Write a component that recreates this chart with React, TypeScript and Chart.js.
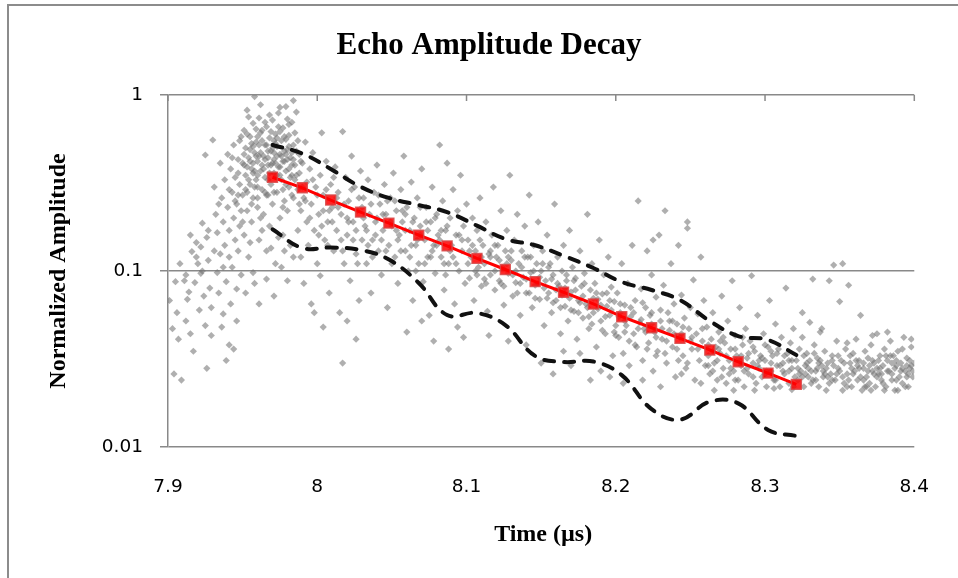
import React, { useEffect, useRef } from 'react';
import { Chart, registerables } from 'chart.js';

Chart.register(...registerables);

const chartTitle = 'Echo Amplitude Decay';
const xAxisTitle = 'Time (µs)';
const yAxisTitle = 'Normalized Amplitude';

const xTicks = [7.9, 8, 8.1, 8.2, 8.3, 8.4];
const yTicks = [0.01, 0.1, 1];

const fitTimes = [7.970, 7.990, 8.009, 8.029, 8.048, 8.068, 8.087, 8.107, 8.126, 8.146, 8.165, 8.185, 8.204, 8.224, 8.243, 8.263, 8.282, 8.302, 8.321];
const fitAmps = [0.341, 0.297, 0.253, 0.216, 0.187, 0.160, 0.139, 0.118, 0.102, 0.087, 0.0757, 0.065, 0.055, 0.0476, 0.0414, 0.0356, 0.0305, 0.0263, 0.0227];
const upperAmps = [0.520, 0.465, 0.380, 0.301, 0.260, 0.237, 0.216, 0.181, 0.152, 0.140, 0.122, 0.104, 0.0866, 0.078, 0.0684, 0.052, 0.0427, 0.0406, 0.0333];
const lowerAmps = [0.1726, 0.1351, 0.136, 0.1316, 0.1162, 0.0855, 0.0562, 0.0577, 0.0493, 0.0329, 0.0304, 0.0306, 0.0256, 0.0164, 0.0143, 0.0181, 0.0177, 0.0125, 0.01155];

const scatterPoints: [number, number][] = [
  // 7.90 - 7.93
  [7.901, 0.068], [7.903, 0.047], [7.904, 0.026], [7.906, 0.058], [7.907, 0.041], [7.909, 0.024], [7.911, 0.088], [7.912, 0.052],
  [7.913, 0.069], [7.915, 0.044], [7.916, 0.129], [7.917, 0.035], [7.918, 0.086], [7.919, 0.145], [7.921, 0.060], [7.922, 0.097],
  [7.923, 0.187], [7.924, 0.072], [7.925, 0.049], [7.926, 0.155], [7.927, 0.115], [7.928, 0.080], [7.929, 0.043], [7.929, 0.062],
  [7.926, 0.028], [7.922, 0.137], [7.914, 0.076], [7.920, 0.110], [7.925, 0.456],
  [7.905, 0.087], [7.908, 0.11], [7.912, 0.095], [7.915, 0.16], [7.919, 0.12], [7.923, 0.10], [7.927, 0.17], [7.931, 0.13],
  [7.934, 0.24], [7.937, 0.105],
  // 7.93 - 7.95
  [7.930, 0.555], [7.931, 0.30], [7.932, 0.21], [7.933, 0.165], [7.933, 0.098], [7.934, 0.075], [7.935, 0.41], [7.935, 0.125],
  [7.936, 0.26], [7.937, 0.19], [7.937, 0.057], [7.938, 0.33], [7.938, 0.14], [7.939, 0.087], [7.940, 0.23], [7.940, 0.46],
  [7.941, 0.12], [7.941, 0.17], [7.942, 0.38], [7.942, 0.065], [7.943, 0.28], [7.943, 0.105], [7.944, 0.20], [7.944, 0.52],
  [7.945, 0.15], [7.945, 0.34], [7.946, 0.079], [7.946, 0.24], [7.947, 0.43], [7.947, 0.13], [7.948, 0.18], [7.948, 0.31],
  [7.949, 0.095], [7.949, 0.58], [7.949, 0.22], [7.936, 0.048], [7.941, 0.038], [7.946, 0.052], [7.944, 0.036], [7.939, 0.031],
  // 7.95 - 7.99 (dense cluster)
  [7.950, 0.41], [7.950, 0.27], [7.951, 0.63], [7.951, 0.16], [7.952, 0.35], [7.952, 0.50], [7.953, 0.22], [7.953, 0.82],
  [7.954, 0.44], [7.954, 0.12], [7.955, 0.31], [7.955, 0.58], [7.956, 0.38], [7.956, 0.19], [7.957, 0.69], [7.957, 0.26],
  [7.958, 0.47], [7.958, 0.085], [7.959, 0.33], [7.959, 0.54], [7.960, 0.42], [7.960, 0.23], [7.961, 0.74], [7.961, 0.15],
  [7.962, 0.37], [7.962, 0.61], [7.963, 0.29], [7.958, 0.98], [7.964, 0.45], [7.964, 0.21], [7.965, 0.52], [7.965, 0.34],
  [7.966, 0.66], [7.966, 0.13], [7.967, 0.40], [7.967, 0.27], [7.968, 0.57], [7.968, 0.18], [7.969, 0.48], [7.969, 0.31],
  [7.970, 0.72], [7.970, 0.24], [7.971, 0.43], [7.971, 0.36], [7.972, 0.60], [7.972, 0.11], [7.973, 0.51], [7.973, 0.28],
  [7.974, 0.39], [7.974, 0.79], [7.975, 0.46], [7.975, 0.20], [7.976, 0.55], [7.976, 0.33], [7.977, 0.65], [7.977, 0.16],
  [7.978, 0.42], [7.978, 0.25], [7.979, 0.86], [7.979, 0.37], [7.980, 0.49], [7.980, 0.22], [7.981, 0.59], [7.981, 0.30],
  [7.982, 0.44], [7.982, 0.14], [7.983, 0.70], [7.983, 0.35], [7.984, 0.52], [7.984, 0.26], [7.985, 0.40], [7.984, 0.93],
  [7.952, 0.075], [7.957, 0.098], [7.961, 0.065], [7.966, 0.09], [7.971, 0.072], [7.976, 0.105], [7.980, 0.088], [7.984, 0.12],
  [7.955, 0.145], [7.963, 0.17], [7.969, 0.135], [7.974, 0.155], [7.978, 0.13], [7.953, 0.39], [7.958, 0.30], [7.962, 0.47],
  [7.967, 0.33], [7.972, 0.41], [7.977, 0.29], [7.981, 0.38], [7.956, 0.53], [7.960, 0.58], [7.965, 0.43], [7.970, 0.50],
  [7.975, 0.62], [7.979, 0.56], [7.983, 0.47],
  [7.941, 0.29], [7.943, 0.44], [7.945, 0.25], [7.947, 0.36], [7.948, 0.55], [7.950, 0.19], [7.951, 0.46], [7.952, 0.29],
  [7.953, 0.60], [7.954, 0.33], [7.955, 0.42], [7.956, 0.24], [7.957, 0.51], [7.958, 0.37], [7.959, 0.64], [7.960, 0.30],
  [7.961, 0.45], [7.962, 0.20], [7.963, 0.55], [7.964, 0.38], [7.965, 0.70], [7.966, 0.27], [7.967, 0.48], [7.968, 0.36],
  [7.969, 0.62], [7.970, 0.41], [7.971, 0.28], [7.972, 0.53], [7.973, 0.35], [7.974, 0.66], [7.975, 0.39], [7.976, 0.45],
  [7.977, 0.23], [7.978, 0.58], [7.979, 0.31], [7.980, 0.43], [7.981, 0.68], [7.982, 0.34], [7.983, 0.27], [7.984, 0.43],
  [7.985, 0.61], [7.986, 0.35], [7.987, 0.55], [7.988, 0.24], [7.989, 0.42], [7.990, 0.30], [7.954, 0.75], [7.962, 0.88],
  [7.968, 0.77], [7.975, 0.85], [7.980, 0.73], [7.986, 0.80], [7.957, 0.41], [7.963, 0.40], [7.971, 0.47], [7.978, 0.48],
  [7.960, 0.35], [7.966, 0.52], [7.973, 0.57], [7.947, 0.27],
  [7.951, 0.40], [7.955, 0.49], [7.959, 0.45], [7.963, 0.63], [7.967, 0.44], [7.971, 0.55], [7.975, 0.35], [7.979, 0.46],
  [7.983, 0.40], [7.957, 0.36], [7.961, 0.52], [7.965, 0.28], [7.969, 0.40], [7.973, 0.45], [7.977, 0.42], [7.981, 0.51],
  [7.985, 0.33], [7.988, 0.46], [7.953, 0.28], [7.960, 0.26],
  // 7.985 - 8.03
  [7.986, 0.48], [7.987, 0.29], [7.987, 0.17], [7.988, 0.36], [7.989, 0.22], [7.989, 0.12], [7.990, 0.41], [7.991, 0.26],
  [7.991, 0.085], [7.992, 0.54], [7.993, 0.19], [7.993, 0.32], [7.994, 0.14], [7.995, 0.38], [7.996, 0.24], [7.996, 0.065],
  [7.997, 0.47], [7.998, 0.17], [7.999, 0.30], [8.000, 0.11], [8.001, 0.21], [8.002, 0.35], [8.002, 0.094], [8.003, 0.61],
  [8.004, 0.27], [8.005, 0.15], [8.006, 0.42], [8.007, 0.19], [8.008, 0.075], [8.009, 0.31], [8.010, 0.23], [8.011, 0.13],
  [8.012, 0.39], [8.013, 0.17], [8.014, 0.28], [8.015, 0.058], [8.016, 0.21], [8.017, 0.62], [8.018, 0.11], [8.019, 0.34],
  [8.020, 0.16], [8.021, 0.25], [8.022, 0.088], [8.023, 0.45], [8.024, 0.19], [8.025, 0.30], [8.026, 0.125], [8.027, 0.22],
  [8.028, 0.068], [8.029, 0.37], [8.030, 0.15], [8.017, 0.030], [8.004, 0.048], [8.020, 0.052], [7.998, 0.058], [8.026, 0.041],
  [7.992, 0.25], [7.995, 0.20], [7.997, 0.33], [8.000, 0.27], [8.003, 0.18], [8.006, 0.29], [8.008, 0.22], [8.011, 0.34],
  [8.013, 0.26], [8.016, 0.15], [8.018, 0.24], [8.021, 0.19], [8.023, 0.29], [8.026, 0.17], [8.028, 0.26],
  [8.001, 0.16], [8.004, 0.22], [8.007, 0.14], [8.010, 0.19], [8.014, 0.23], [8.017, 0.13], [8.020, 0.20], [8.024, 0.15],
  [8.027, 0.11],
  // 8.03 - 8.10
  [8.031, 0.26], [8.032, 0.18], [8.033, 0.11], [8.034, 0.33], [8.035, 0.21], [8.036, 0.075], [8.037, 0.15], [8.038, 0.28],
  [8.039, 0.19], [8.040, 0.40], [8.041, 0.13], [8.042, 0.24], [8.043, 0.095], [8.044, 0.17], [8.045, 0.31], [8.046, 0.21],
  [8.047, 0.062], [8.048, 0.14], [8.049, 0.26], [8.050, 0.18], [8.051, 0.36], [8.052, 0.12], [8.053, 0.22], [8.054, 0.085],
  [8.055, 0.16], [8.056, 0.29], [8.057, 0.19], [8.058, 0.45], [8.059, 0.13], [8.060, 0.23], [8.061, 0.10], [8.062, 0.17],
  [8.063, 0.32], [8.064, 0.068], [8.065, 0.20], [8.066, 0.14], [8.067, 0.26], [8.068, 0.11], [8.069, 0.18], [8.070, 0.38],
  [8.071, 0.087], [8.072, 0.15], [8.073, 0.23], [8.074, 0.12], [8.075, 0.056], [8.076, 0.19], [8.077, 0.30], [8.078, 0.14],
  [8.079, 0.097], [8.080, 0.21], [8.081, 0.16], [8.082, 0.52], [8.083, 0.12], [8.084, 0.25], [8.085, 0.078], [8.086, 0.17],
  [8.087, 0.41], [8.088, 0.11], [8.089, 0.20], [8.090, 0.14], [8.091, 0.29], [8.092, 0.065], [8.093, 0.16], [8.094, 0.22],
  [8.095, 0.10], [8.096, 0.35], [8.097, 0.13], [8.098, 0.18], [8.099, 0.085], [8.100, 0.24],
  [8.060, 0.045], [8.078, 0.040], [8.088, 0.036], [8.094, 0.048], [8.070, 0.052], [8.098, 0.042],
  [8.031, 0.20], [8.034, 0.14], [8.036, 0.24], [8.039, 0.16], [8.041, 0.27], [8.044, 0.21], [8.046, 0.13], [8.049, 0.19],
  [8.052, 0.25], [8.054, 0.15], [8.057, 0.22], [8.059, 0.17], [8.062, 0.12], [8.064, 0.19], [8.067, 0.15], [8.069, 0.23],
  [8.072, 0.11], [8.074, 0.17], [8.077, 0.13], [8.079, 0.20], [8.082, 0.15], [8.085, 0.11], [8.087, 0.18], [8.091, 0.12],
  [8.095, 0.16],
  [8.030, 0.23], [8.033, 0.17], [8.037, 0.12], [8.040, 0.20], [8.043, 0.15], [8.047, 0.25], [8.050, 0.11], [8.053, 0.17],
  [8.056, 0.13], [8.059, 0.21], [8.063, 0.14], [8.066, 0.10], [8.069, 0.16], [8.073, 0.19], [8.076, 0.12], [8.080, 0.14],
  [8.083, 0.17], [8.086, 0.095], [8.089, 0.13], [8.093, 0.11], [8.097, 0.15],
  // 8.10 - 8.20
  [8.101, 0.15], [8.102, 0.091], [8.103, 0.12], [8.104, 0.20], [8.105, 0.068], [8.106, 0.13], [8.107, 0.17], [8.108, 0.105],
  [8.109, 0.26], [8.110, 0.082], [8.111, 0.14], [8.112, 0.11], [8.113, 0.19], [8.114, 0.059], [8.115, 0.125], [8.116, 0.095],
  [8.117, 0.16], [8.118, 0.30], [8.119, 0.078], [8.120, 0.12], [8.121, 0.14], [8.122, 0.088], [8.123, 0.22], [8.124, 0.105],
  [8.125, 0.064], [8.126, 0.13], [8.127, 0.17], [8.128, 0.097], [8.129, 0.35], [8.130, 0.115], [8.131, 0.072], [8.132, 0.15],
  [8.133, 0.086], [8.134, 0.21], [8.135, 0.11], [8.136, 0.056], [8.137, 0.13], [8.138, 0.092], [8.139, 0.18], [8.140, 0.075],
  [8.141, 0.12], [8.142, 0.27], [8.143, 0.098], [8.144, 0.062], [8.145, 0.14], [8.146, 0.083], [8.147, 0.11], [8.148, 0.19],
  [8.149, 0.069], [8.150, 0.10], [8.151, 0.13], [8.152, 0.049], [8.153, 0.088], [8.154, 0.16], [8.155, 0.075], [8.156, 0.11],
  [8.157, 0.058], [8.158, 0.095], [8.159, 0.24], [8.160, 0.068], [8.161, 0.12], [8.162, 0.082], [8.163, 0.044], [8.164, 0.10],
  [8.165, 0.14], [8.166, 0.063], [8.167, 0.088], [8.168, 0.052], [8.169, 0.17], [8.170, 0.076], [8.171, 0.105], [8.172, 0.059],
  [8.173, 0.091], [8.174, 0.041], [8.175, 0.068], [8.176, 0.13], [8.177, 0.082], [8.178, 0.054], [8.179, 0.097], [8.180, 0.065],
  [8.181, 0.21], [8.182, 0.047], [8.183, 0.078], [8.184, 0.11], [8.185, 0.058], [8.186, 0.085], [8.187, 0.037], [8.188, 0.069],
  [8.189, 0.15], [8.190, 0.052], [8.191, 0.074], [8.192, 0.095], [8.193, 0.044], [8.194, 0.063], [8.195, 0.12], [8.196, 0.056],
  [8.197, 0.081], [8.198, 0.033], [8.199, 0.067], [8.200, 0.049],
  [8.150, 0.030], [8.158, 0.026], [8.170, 0.029], [8.183, 0.024], [8.176, 0.034], [8.165, 0.035], [8.190, 0.027], [8.196, 0.025],
  [8.115, 0.043], [8.128, 0.040], [8.140, 0.038],
  [8.101, 0.11], [8.104, 0.14], [8.107, 0.095], [8.110, 0.12], [8.113, 0.085], [8.116, 0.13], [8.119, 0.10], [8.122, 0.115],
  [8.125, 0.082], [8.128, 0.12], [8.131, 0.095], [8.134, 0.075], [8.137, 0.105], [8.140, 0.09], [8.143, 0.12], [8.146, 0.07],
  [8.149, 0.092], [8.152, 0.08], [8.155, 0.105], [8.158, 0.066], [8.161, 0.085], [8.164, 0.073], [8.167, 0.095], [8.170, 0.06],
  [8.173, 0.078], [8.176, 0.066], [8.179, 0.085], [8.182, 0.055], [8.185, 0.07], [8.188, 0.061], [8.191, 0.046], [8.194, 0.075],
  [8.197, 0.06],
  [8.102, 0.13], [8.106, 0.10], [8.109, 0.15], [8.112, 0.09], [8.116, 0.12], [8.119, 0.14], [8.123, 0.085], [8.127, 0.11],
  [8.130, 0.13], [8.133, 0.10], [8.136, 0.085], [8.139, 0.12], [8.142, 0.075], [8.145, 0.10], [8.148, 0.085], [8.151, 0.11],
  [8.154, 0.07], [8.157, 0.09], [8.160, 0.078], [8.163, 0.062], [8.166, 0.08], [8.169, 0.07], [8.172, 0.088], [8.175, 0.058],
  [8.178, 0.072], [8.181, 0.062], [8.184, 0.05], [8.187, 0.075], [8.190, 0.064], [8.193, 0.055], [8.196, 0.068], [8.199, 0.045],
  // 8.20 - 8.26
  [8.201, 0.075], [8.202, 0.042], [8.203, 0.058], [8.204, 0.11], [8.205, 0.034], [8.206, 0.064], [8.207, 0.049], [8.208, 0.085],
  [8.209, 0.029], [8.210, 0.055], [8.211, 0.14], [8.212, 0.044], [8.213, 0.068], [8.214, 0.037], [8.215, 0.25], [8.216, 0.051],
  [8.217, 0.079], [8.218, 0.031], [8.219, 0.047], [8.220, 0.062], [8.221, 0.13], [8.222, 0.039], [8.223, 0.056], [8.224, 0.095],
  [8.225, 0.027], [8.226, 0.045], [8.227, 0.071], [8.228, 0.035], [8.229, 0.16], [8.230, 0.052], [8.231, 0.041], [8.232, 0.083],
  [8.233, 0.22], [8.234, 0.030], [8.235, 0.058], [8.236, 0.046], [8.237, 0.11], [8.238, 0.037], [8.239, 0.065], [8.240, 0.025],
  [8.241, 0.050], [8.242, 0.14], [8.243, 0.042], [8.244, 0.073], [8.245, 0.033], [8.246, 0.054], [8.247, 0.028], [8.248, 0.19],
  [8.249, 0.047], [8.250, 0.062], [8.251, 0.036], [8.252, 0.089], [8.253, 0.024], [8.254, 0.044], [8.255, 0.057], [8.256, 0.031],
  [8.257, 0.12], [8.258, 0.040], [8.259, 0.068], [8.260, 0.029],
  [8.205, 0.023], [8.218, 0.024], [8.230, 0.022], [8.244, 0.026], [8.257, 0.023], [8.248, 0.175], [8.225, 0.15],
  [8.200, 0.043], [8.203, 0.065], [8.206, 0.052], [8.209, 0.04], [8.212, 0.058], [8.215, 0.047], [8.218, 0.066], [8.221, 0.036],
  [8.224, 0.05], [8.227, 0.042], [8.230, 0.06], [8.233, 0.034], [8.236, 0.052], [8.239, 0.044], [8.242, 0.031], [8.245, 0.048],
  [8.250, 0.04],
  [8.202, 0.055], [8.206, 0.045], [8.210, 0.062], [8.213, 0.038], [8.217, 0.053], [8.220, 0.045], [8.224, 0.058], [8.227, 0.033],
  [8.231, 0.047], [8.234, 0.040], [8.238, 0.052], [8.241, 0.036], [8.244, 0.044], [8.248, 0.030], [8.251, 0.042], [8.255, 0.036],
  [8.258, 0.047],
  // 8.26 - 8.32
  [8.261, 0.048], [8.262, 0.033], [8.263, 0.026], [8.264, 0.041], [8.265, 0.058], [8.266, 0.030], [8.267, 0.037], [8.268, 0.024],
  [8.269, 0.045], [8.270, 0.034], [8.271, 0.072], [8.272, 0.028], [8.273, 0.039], [8.274, 0.023], [8.275, 0.052], [8.276, 0.031],
  [8.277, 0.036], [8.278, 0.088], [8.279, 0.027], [8.280, 0.043], [8.281, 0.033], [8.282, 0.024], [8.283, 0.062], [8.284, 0.029],
  [8.285, 0.038], [8.286, 0.022], [8.287, 0.047], [8.288, 0.032], [8.289, 0.026], [8.290, 0.040], [8.291, 0.094], [8.292, 0.030],
  [8.293, 0.035], [8.294, 0.023], [8.295, 0.056], [8.296, 0.028], [8.297, 0.033], [8.298, 0.025], [8.299, 0.044], [8.300, 0.031],
  [8.301, 0.022], [8.302, 0.037], [8.303, 0.068], [8.304, 0.027], [8.305, 0.033], [8.306, 0.024], [8.307, 0.050], [8.308, 0.029],
  [8.309, 0.036], [8.310, 0.022], [8.311, 0.042], [8.312, 0.030], [8.313, 0.026], [8.314, 0.080], [8.315, 0.034], [8.316, 0.023],
  [8.317, 0.039], [8.318, 0.028], [8.319, 0.047], [8.320, 0.025],
  [8.266, 0.021], [8.279, 0.021], [8.293, 0.021], [8.306, 0.0215], [8.318, 0.0212], [8.270, 0.040], [8.285, 0.042], [8.300, 0.038],
  [8.262, 0.029], [8.265, 0.035], [8.268, 0.031], [8.271, 0.025], [8.274, 0.033], [8.277, 0.028], [8.280, 0.024], [8.283, 0.031],
  [8.286, 0.027], [8.289, 0.034], [8.292, 0.025], [8.295, 0.029], [8.298, 0.032], [8.301, 0.027], [8.304, 0.035], [8.307, 0.024],
  [8.310, 0.029], [8.313, 0.033], [8.316, 0.027], [8.319, 0.022], [8.318, 0.031],
  [8.262, 0.038], [8.265, 0.027], [8.269, 0.036], [8.272, 0.042], [8.276, 0.026], [8.280, 0.036], [8.284, 0.033], [8.288, 0.028],
  [8.292, 0.037], [8.296, 0.031], [8.300, 0.026], [8.304, 0.030], [8.308, 0.034], [8.312, 0.027], [8.316, 0.031],
  // 8.32 - 8.40
  [8.321, 0.031], [8.322, 0.024], [8.323, 0.036], [8.324, 0.027], [8.325, 0.042], [8.326, 0.022], [8.327, 0.029], [8.328, 0.034],
  [8.329, 0.025], [8.330, 0.031], [8.331, 0.023], [8.332, 0.090], [8.333, 0.038], [8.334, 0.027], [8.335, 0.032], [8.336, 0.022],
  [8.337, 0.045], [8.338, 0.029], [8.339, 0.025], [8.340, 0.035], [8.341, 0.021], [8.342, 0.030], [8.343, 0.088], [8.344, 0.026],
  [8.345, 0.033], [8.346, 0.108], [8.347, 0.024], [8.348, 0.040], [8.349, 0.028], [8.350, 0.067], [8.351, 0.031], [8.352, 0.110],
  [8.353, 0.023], [8.354, 0.036], [8.355, 0.026], [8.356, 0.083], [8.357, 0.030], [8.358, 0.022], [8.359, 0.034], [8.360, 0.027],
  [8.361, 0.041], [8.362, 0.024], [8.363, 0.031], [8.364, 0.056], [8.365, 0.021], [8.366, 0.028], [8.367, 0.035], [8.368, 0.025],
  [8.369, 0.032], [8.370, 0.023], [8.371, 0.038], [8.372, 0.027], [8.373, 0.030], [8.374, 0.022], [8.375, 0.044], [8.376, 0.026],
  [8.377, 0.033], [8.378, 0.024], [8.379, 0.029], [8.380, 0.036], [8.381, 0.022], [8.382, 0.031], [8.383, 0.027], [8.384, 0.040],
  [8.385, 0.024], [8.386, 0.033], [8.387, 0.021], [8.388, 0.029], [8.389, 0.035], [8.390, 0.025], [8.391, 0.030], [8.392, 0.023],
  [8.393, 0.042], [8.394, 0.027], [8.395, 0.032], [8.396, 0.022], [8.397, 0.028], [8.398, 0.037], [8.399, 0.025], [8.400, 0.030],
  [8.325, 0.058], [8.330, 0.051], [8.338, 0.047], [8.372, 0.043], [8.382, 0.045], [8.392, 0.036], [8.398, 0.041], [8.355, 0.039],
  [8.345, 0.024], [8.362, 0.029], [8.375, 0.025], [8.387, 0.028], [8.396, 0.026], [8.335, 0.028], [8.368, 0.022], [8.380, 0.021],
  [8.322, 0.028], [8.325, 0.025], [8.328, 0.030], [8.331, 0.027], [8.334, 0.024], [8.337, 0.031], [8.340, 0.026], [8.343, 0.023],
  [8.346, 0.029], [8.349, 0.033], [8.352, 0.025], [8.355, 0.022], [8.358, 0.028], [8.361, 0.031], [8.364, 0.025], [8.367, 0.022],
  [8.370, 0.029], [8.373, 0.026], [8.376, 0.031], [8.379, 0.023], [8.382, 0.027], [8.385, 0.030], [8.388, 0.024], [8.391, 0.027],
  [8.394, 0.022], [8.397, 0.031], [8.399, 0.027], [8.333, 0.034], [8.348, 0.026], [8.357, 0.033], [8.366, 0.030], [8.377, 0.028],
  [8.384, 0.033], [8.389, 0.021], [8.395, 0.029], [8.371, 0.021], [8.352, 0.021], [8.341, 0.028], [8.327, 0.026],
  [8.323, 0.026], [8.326, 0.033], [8.329, 0.028], [8.332, 0.024], [8.336, 0.030], [8.339, 0.027], [8.342, 0.025], [8.345, 0.031],
  [8.350, 0.027], [8.353, 0.030], [8.356, 0.024], [8.359, 0.026], [8.363, 0.028], [8.366, 0.024], [8.369, 0.027], [8.372, 0.031],
  [8.375, 0.028], [8.378, 0.026], [8.381, 0.033], [8.385, 0.026], [8.388, 0.031], [8.392, 0.028], [8.395, 0.025], [8.398, 0.029],
];

const GRID = '#898989';
const TICK_FONT = { family: '"DejaVu Sans", sans-serif', size: 18.5 };
const SERIF = '"Liberation Serif", "Times New Roman", serif';

export default function App() {
  const ref = useRef<HTMLCanvasElement>(null);

  useEffect(() => {
    const canvas = ref.current;
    if (!canvas) return;

    const textPlugin = {
      id: 'chartTexts',
      afterDraw(chart: any) {
        const { ctx, chartArea: ca } = chart;
        ctx.save();
        ctx.fillStyle = '#000';
        ctx.textAlign = 'center';
        ctx.textBaseline = 'alphabetic';
        ctx.font = `bold 31px ${SERIF}`;
        ctx.fillText(chartTitle, 489, 54);
        ctx.font = `bold 24px ${SERIF}`;
        ctx.fillText(xAxisTitle, (ca.left + ca.right) / 2 + 2, 541);
        ctx.translate(65, (ca.top + ca.bottom) / 2);
        ctx.rotate(-Math.PI / 2);
        ctx.fillText(yAxisTitle, 0, 0);
        ctx.restore();
      },
    };

    const topTickPlugin = {
      id: 'topTicks',
      afterDraw(chart: any) {
        const { ctx, chartArea: ca } = chart;
        const xs = chart.scales.x;
        ctx.save();
        ctx.strokeStyle = GRID;
        ctx.lineWidth = 1.5;
        xs.ticks.forEach((t: any) => {
          const px = xs.getPixelForValue(t.value);
          ctx.beginPath();
          ctx.moveTo(px, ca.top);
          ctx.lineTo(px, ca.top + 6);
          ctx.stroke();
        });
        ctx.restore();
      },
    };

    const chart = new Chart(canvas, {
      type: 'scatter',
      data: {
        datasets: [
          {
            label: 'Fit',
            data: fitTimes.map((t, i) => ({ x: t, y: fitAmps[i] })),
            showLine: true,
            borderColor: '#ff0000',
            borderWidth: 3,
            pointStyle: 'rect',
            pointRadius: 7,
            pointBackgroundColor: 'rgba(255,0,0,0.85)',
            pointBorderColor: 'rgba(215,70,70,0.85)',
            pointBorderWidth: 1.5,
            tension: 0,
            order: 0,
          },
          {
            label: 'Upper',
            data: fitTimes.map((t, i) => ({ x: t, y: upperAmps[i] })),
            showLine: true,
            borderColor: '#111',
            borderWidth: 4,
            borderDash: [10, 10],
            borderCapStyle: 'round',
            pointRadius: 0,
            tension: 0.4,
            order: 1,
          },
          {
            label: 'Lower',
            data: fitTimes.map((t, i) => ({ x: t, y: lowerAmps[i] })),
            showLine: true,
            borderColor: '#111',
            borderWidth: 4,
            borderDash: [10, 10],
            borderCapStyle: 'round',
            pointRadius: 0,
            tension: 0.4,
            order: 1,
          },
          {
            label: 'Samples',
            data: scatterPoints.map(([x, y]) => ({ x, y })),
            pointStyle: 'rectRot',
            pointRadius: 3.6,
            pointBackgroundColor: 'rgba(118,118,118,0.58)',
            pointBorderWidth: 0,
            order: 2,
          },
        ],
      },
      options: {
        animation: false,
        responsive: false,
        devicePixelRatio: 1,
        layout: { padding: { top: 95, right: 34, bottom: 0, left: 0 } },
        plugins: {
          legend: { display: false },
          title: { display: false },
          tooltip: { enabled: false },
        },
        scales: {
          x: {
            type: 'linear',
            position: 'bottom',
            min: 7.9,
            max: 8.4,
            afterBuildTicks: (s: any) => {
              s.ticks = xTicks.map((v) => ({ value: v }));
            },
            afterFit: (s: any) => {
              s.height = 131;
            },
            grid: { display: false, drawTicks: false },
            border: { display: false },
            ticks: {
              padding: 29,
              color: '#000',
              font: TICK_FONT,
              autoSkip: false,
              maxRotation: 0,
              callback: (v: any) => String(v),
            },
          },
          y: {
            type: 'logarithmic',
            min: 0.01,
            max: 1,
            afterBuildTicks: (s: any) => {
              s.ticks = yTicks.map((v) => ({ value: v }));
            },
            afterFit: (s: any) => {
              s.width = 168;
            },
            grid: { color: GRID, lineWidth: 1.5, drawTicks: true, tickLength: 8 },
            border: { display: true, color: GRID, width: 1.5 },
            ticks: {
              padding: 17,
              color: '#000',
              font: TICK_FONT,
              autoSkip: false,
              callback: (v: any) => String(v),
            },
          },
        },
      },
      plugins: [topTickPlugin, textPlugin],
    } as any);

    return () => chart.destroy();
  }, []);

  return (
    <div style={{ position: 'fixed', left: 0, top: 0, width: 958, height: 578, overflow: 'hidden', background: '#fff' }}>
      <div
        style={{
          position: 'absolute',
          left: 7,
          top: 4,
          width: 1100,
          height: 1100,
          borderLeft: '2px solid #8c8c8c',
          borderTop: '2px solid #8c8c8c',
        }}
      />
      <canvas ref={ref} width={958} height={578} style={{ position: 'absolute', left: 0, top: 0 }} />
    </div>
  );
}
